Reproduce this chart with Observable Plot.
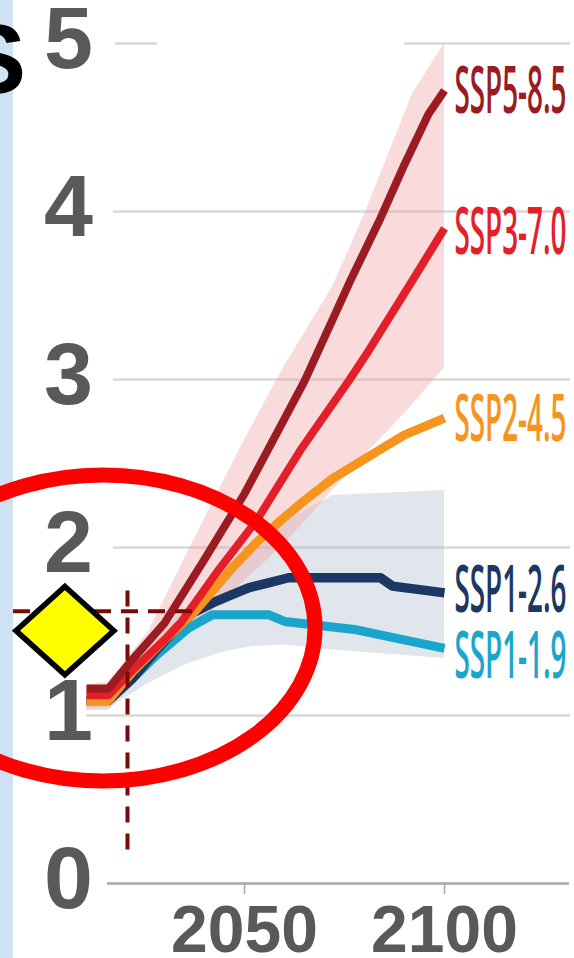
<!DOCTYPE html>
<html><head><meta charset="utf-8">
<script src="https://cdn.jsdelivr.net/npm/d3@7"></script>
<script src="https://cdn.jsdelivr.net/npm/@observablehq/plot@0.6"></script>
<style>
html,body{margin:0;padding:0;background:#fff;}
#chart{position:relative;width:574px;height:958px;overflow:hidden;}
</style></head><body><div id="chart"></div>
<script>
// ---- data ----
const scenarios = ["SSP5-8.5", "SSP3-7.0", "SSP2-4.5", "SSP1-2.6", "SSP1-1.9"];
const colors = ["#9b1b22", "#e31f2a", "#f7941d", "#1c3764", "#1aa6cc"];
const labelY = [4.71, 3.87, 2.76, 1.74, 1.35];

const ssp585 = [[2010.5,1.16],[2016,1.16],[2021.5,1.32],[2030,1.55],[2040,1.93],[2050,2.32],[2065,2.99],[2076.5,3.59],[2084,3.96],[2090,4.28],[2096,4.58],[2100,4.72]];
const ssp370 = [[2010.5,1.12],[2016,1.12],[2022,1.27],[2030,1.45],[2034,1.55],[2043,1.85],[2053,2.16],[2064,2.58],[2076,2.99],[2081,3.17],[2092,3.59],[2100,3.90]];
const ssp245 = [[2010.5,1.09],[2016,1.09],[2022,1.26],[2030,1.45],[2038,1.63],[2047,1.88],[2053,2.03],[2059,2.16],[2065,2.28],[2072,2.41],[2083,2.57],[2090,2.67],[2100,2.77]];
const ssp126 = [[2010.5,1.09],[2016,1.09],[2022,1.22],[2028,1.39],[2033,1.52],[2037,1.61],[2042,1.67],[2046,1.71],[2051,1.76],[2056,1.79],[2061,1.82],[2084,1.82],[2087,1.77],[2100,1.73]];
const ssp119 = [[2010.5,1.09],[2016,1.09],[2022,1.22],[2028,1.36],[2031,1.42],[2036,1.52],[2042,1.60],[2056,1.60],[2060,1.56],[2078,1.51],[2100,1.40]];
const seriesList = [ssp585, ssp370, ssp245, ssp126, ssp119];

// uncertainty bands
const pinkYears = [2010.5, 2016, 2026, 2040, 2050, 2060, 2072, 2080, 2087, 2092, 2100];
const pinkHigh  = [1.18, 1.20, 1.50, 2.17, 2.64, 3.08, 3.55, 3.98, 4.40, 4.70, 5.00];
const pinkLow   = [1.03, 1.03, 1.27, 1.58, 1.80, 2.02, 2.34, 2.55, 2.72, 2.85, 3.07];
const grayYears = [2010.5, 2016, 2026, 2035, 2045, 2052, 2060, 2072, 2100];
const grayHigh  = [1.12, 1.14, 1.42, 1.63, 1.87, 2.02, 2.15, 2.31, 2.34];
const grayLow   = [1.04, 1.04, 1.19, 1.30, 1.38, 1.41, 1.42, 1.39, 1.34];

// gridlines (value, start year, end year)
const gridValues = [1, 2, 3, 4, 5, 5];
const gridStart  = [2010.5, 2017.25, 2017.25, 2017.25, 2017.75, 2090];
const gridEnd    = [2131.5, 2131.5, 2131.5, 2131.5, 2028.25, 2131.5];
const axisSpan = [2015.75, 2131.25];

const yTicks = [0, 1, 2, 3, 4, 5];
const xTicks = [2050, 2100];

// annotations
const dashH = {value: 1.62, start: 1992.25, end: 2037.25};
const dashV = {year: 2020.75, low: 0.2, high: 1.79};
const marker = {year: 2005.1, value: 1.505};
const ellipseSpec = {year: 2014.75, value: 1.518, rYears: 53, rValue: 0.911};
const cutLetter = "S";

// ---- tables ----
const lineRows = scenarios.flatMap((s, i) => seriesList[i].map(([year, value]) => ({scenario: s, year, value})));
const labelRows = scenarios.map((s, i) => ({scenario: s, year: seriesList[i][seriesList[i].length - 1][0], y: labelY[i]}));
const pinkRows = pinkYears.map((year, i) => ({year, low: pinkLow[i], high: pinkHigh[i]}));
const grayRows = grayYears.map((year, i) => ({year, low: grayLow[i], high: grayHigh[i]}));
const gridRows = gridValues.map((v, i) => ({value: v, start: gridStart[i], end: gridEnd[i]}));

const widths = {"SSP5-8.5": 8, "SSP3-7.0": 8, "SSP2-4.5": 9, "SSP1-2.6": 9.5, "SSP1-1.9": 9};

const rhombus = {
  draw(ctx, size) {
    const r = Math.sqrt(size / Math.PI);
    ctx.moveTo(0, -r * 0.9);
    ctx.lineTo(r, 0);
    ctx.lineTo(0, r * 0.9);
    ctx.lineTo(-r, 0);
    ctx.closePath();
  }
};

const lineMarks = scenarios.slice().reverse().map(s =>
  Plot.line(lineRows.filter(d => d.scenario === s), {
    x: "year", y: "value", stroke: "scenario", strokeWidth: widths[s],
    strokeLinejoin: "round", strokeLinecap: "butt"
  })
);

const plot = Plot.plot({
  width: 574, height: 958,
  marginLeft: 84, marginRight: 2, marginTop: 43, marginBottom: 75,
  x: {domain: [2010, 2132]},
  y: {domain: [0, 5]},
  color: {domain: scenarios, range: colors},
  style: {background: "transparent", fontFamily: "'Liberation Sans', Arial, sans-serif", overflow: "visible"},
  marks: [
    Plot.ruleY(gridRows, {y: "value", x1: "start", x2: "end", stroke: "#d9d9d9", strokeWidth: 2.5}),
    Plot.areaY(grayRows, {x: "year", y1: "low", y2: "high", fill: "#a9b7cc", fillOpacity: 0.35}),
    Plot.areaY(pinkRows, {x: "year", y1: "low", y2: "high", fill: "#f29a9a", fillOpacity: 0.36}),
    Plot.ruleY([0], {x1: axisSpan[0], x2: axisSpan[1], stroke: "#a8a8a8", strokeWidth: 2.5}),
    Plot.axisX({ticks: xTicks, tickSize: 11, tickPadding: 11, tickFormat: d => String(d),
      fontSize: 66, fontWeight: "bold", fill: "#595959", stroke: "#a8a8a8", strokeWidth: 1.5, label: null}),
    Plot.axisY({ticks: yTicks, tickSize: 0, tickPadding: 16, textAnchor: "middle", tickFormat: d => String(d),
      fontSize: 88, fontWeight: "bold", fill: "#595959", dy: -4, label: null}),
    ...lineMarks,
    Plot.text(labelRows, {x: "year", y: "y", text: "scenario", fill: "scenario", dx: 10,
      textAnchor: "start", fontSize: 66, fontWeight: 600, fontFamily: "'Open Sans', sans-serif"}),
    Plot.ruleY([dashH], {y: "value", x1: "start", x2: "end", stroke: "#780a0a", strokeWidth: 4, strokeDasharray: "17,10"}),
    Plot.ruleX([dashV], {x: "year", y1: "low", y2: "high", stroke: "#780a0a", strokeWidth: 4, strokeDasharray: "16,11"}),
    Plot.dot([marker], {x: "year", y: "value", r: 49, symbol: rhombus, fill: "#ffff00",
      stroke: "#000", strokeWidth: 5.5, strokeLinejoin: "miter"})
  ]
});

const svg = d3.select(plot);
// condensed scenario labels
svg.selectAll("text").filter(function () { return this.textContent.startsWith("SSP"); })
  .attr("textLength", 112).attr("lengthAdjust", "spacingAndGlyphs");

// left strip (behind everything)
svg.insert("rect", ":first-child").attr("x", 0).attr("y", 0).attr("width", 13).attr("height", 958).attr("fill", "#cfe2f3");

// red ellipse via scales
const xs = plot.scale("x"), ys = plot.scale("y");
const cx = xs.apply(ellipseSpec.year), cy = ys.apply(ellipseSpec.value);
svg.append("ellipse")
  .attr("cx", cx).attr("cy", cy)
  .attr("rx", xs.apply(ellipseSpec.year + ellipseSpec.rYears) - cx)
  .attr("ry", cy - ys.apply(ellipseSpec.value + ellipseSpec.rValue))
  .attr("fill", "none").attr("stroke", "#ff0000").attr("stroke-width", 15);

// cut-off title letter
svg.append("text").attr("x", 26).attr("y", 93).attr("text-anchor", "end")
  .attr("font-size", 99).attr("font-weight", "bold").attr("fill", "#000")
  .attr("font-family", "'Liberation Sans', Arial, sans-serif").text(cutLetter);

document.getElementById("chart").appendChild(plot);
</script></body></html>
